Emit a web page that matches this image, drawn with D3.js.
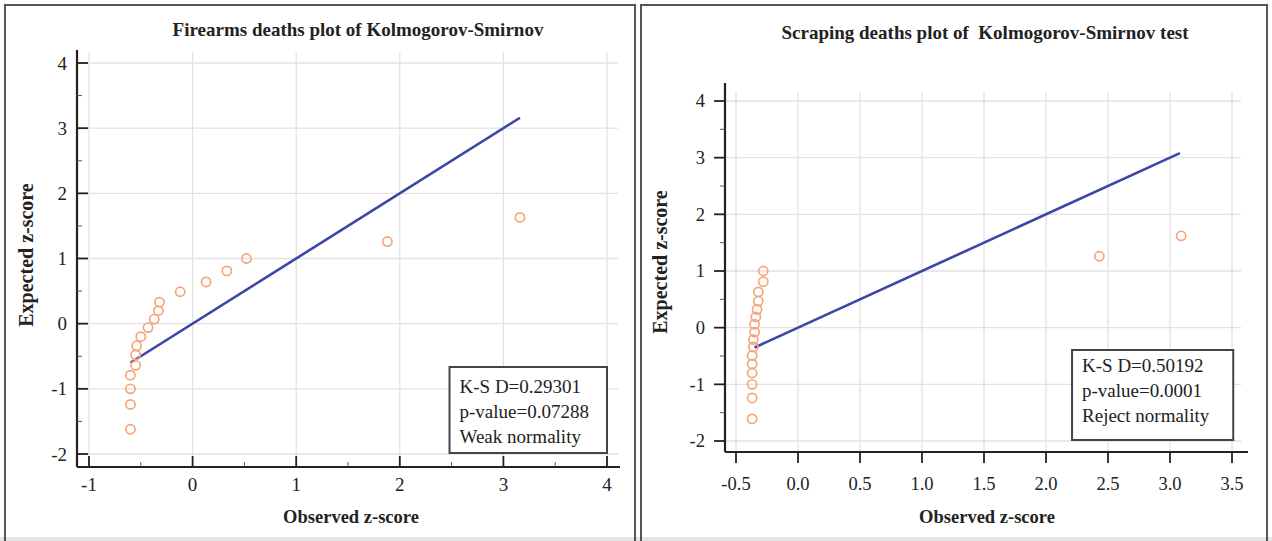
<!DOCTYPE html>
<html>
<head>
  <meta charset="utf-8">
  <title>Kolmogorov-Smirnov plots</title>
  <script src="https://d3js.org/d3.v7.min.js"></script>
  <style>
    body {
      margin: 0;
      background: #fff;
      font-family: 'Liberation Serif', 'Times New Roman', serif;
    }
    svg text { font-family: 'Liberation Serif', 'Times New Roman', serif; fill: #222; }
  </style>
</head>
<body>
  <div id="chart"></div>

  <script>
    // Firearms deaths: observed vs expected z-scores
    const firearmsObserved = [-0.60, -0.60, -0.60, -0.60, -0.55, -0.55, -0.54, -0.50, -0.43, -0.37, -0.33, -0.32, -0.12, 0.13, 0.33, 0.52, 1.88, 3.16];
    const firearmsExpected = [-1.62, -1.24, -1.00, -0.79, -0.64, -0.48, -0.34, -0.20, -0.06, 0.07, 0.20, 0.33, 0.49, 0.64, 0.81, 1.00, 1.26, 1.63];
    const firearmsLine = [-0.60, 3.16];
    const firearmsXTicks = [-1, 0, 1, 2, 3, 4];
    const firearmsStats = ["K-S D=0.29301", "p-value=0.07288", "Weak normality"];

    // Scraping deaths
    const scrapingObserved = [-0.37, -0.37, -0.37, -0.37, -0.37, -0.37, -0.36, -0.36, -0.35, -0.35, -0.34, -0.33, -0.32, -0.32, -0.28, -0.28, 2.43, 3.09];
    const scrapingExpected = [-1.61, -1.24, -1.00, -0.80, -0.64, -0.49, -0.34, -0.21, -0.08, 0.06, 0.19, 0.32, 0.47, 0.63, 0.81, 1.00, 1.26, 1.62];
    const scrapingLine = [-0.35, 3.08];
    const scrapingXTicks = [-0.5, 0.0, 0.5, 1.0, 1.5, 2.0, 2.5, 3.0, 3.5];
    const scrapingStats = ["K-S D=0.50192", "p-value=0.0001", "Reject normality"];

    const yTicks = [-2, -1, 0, 1, 2, 3, 4];

    const W = 1272, H = 541;
    const svg = d3.select("#chart").append("svg")
      .attr("width", W)
      .attr("height", H);

    // plain hyphen for negatives, like the original
    const hyphen = f => d => f(d).replace("\u2212", "-");

    // background frames
    svg.append("rect").attr("x", 0).attr("y", 537).attr("width", W).attr("height", 4).attr("fill", "#e4e4e4");
    svg.append("rect").attr("x", 5).attr("y", 5).attr("width", 630).attr("height", 540)
      .attr("fill", "none").attr("stroke", "#555").attr("stroke-width", 2);
    svg.append("rect").attr("x", 641).attr("y", 5).attr("width", 626).attr("height", 540)
      .attr("fill", "none").attr("stroke", "#555").attr("stroke-width", 2);

    function drawPanel(cfg) {
      const g = svg.append("g");
      const x = d3.scaleLinear().domain(cfg.xDomain).range(cfg.xRange);
      const y = d3.scaleLinear().domain([-2, 4]).range(cfg.yRange);

      // grid
      g.append("g").selectAll("line")
        .data(yTicks)
        .join("line")
        .attr("x1", cfg.axisX).attr("x2", cfg.gridRight)
        .attr("y1", d => y(d)).attr("y2", d => y(d))
        .attr("stroke", "#e2e2e2").attr("stroke-width", 1.3);
      g.append("g").selectAll("line")
        .data(cfg.xTicks)
        .join("line")
        .attr("x1", d => x(d)).attr("x2", d => x(d))
        .attr("y1", cfg.gridTop).attr("y2", cfg.axisY)
        .attr("stroke", "#e2e2e2").attr("stroke-width", 1.3);

      // axes
      const dir = cfg.inside ? 1 : -1;
      const yAxis = g.append("g");
      yAxis.append("line")
        .attr("x1", cfg.axisX).attr("x2", cfg.axisX)
        .attr("y1", cfg.axisTop).attr("y2", cfg.axisY)
        .attr("stroke", "#222").attr("stroke-width", 2.2);
      yAxis.selectAll(".major")
        .data(yTicks)
        .join("line")
        .attr("class", "major")
        .attr("x1", cfg.axisX).attr("x2", cfg.axisX + dir * 11)
        .attr("y1", d => y(d)).attr("y2", d => y(d))
        .attr("stroke", "#222").attr("stroke-width", 1.8);
      yAxis.selectAll(".minor")
        .data(yTicks.slice(0, -1).map(d => d + 0.5))
        .join("line")
        .attr("class", "minor")
        .attr("x1", cfg.axisX).attr("x2", cfg.axisX + dir * 5)
        .attr("y1", d => y(d)).attr("y2", d => y(d))
        .attr("stroke", "#555").attr("stroke-width", 1);
      yAxis.selectAll("text")
        .data(yTicks)
        .join("text")
        .attr("x", cfg.yLabelX)
        .attr("y", d => y(d))
        .attr("dy", "0.35em")
        .attr("text-anchor", "end")
        .attr("font-size", cfg.tickSize)
        .text(hyphen(d3.format("d")));

      const xAxis = g.append("g");
      xAxis.append("line")
        .attr("x1", cfg.axisX).attr("x2", cfg.axisRight)
        .attr("y1", cfg.axisY).attr("y2", cfg.axisY)
        .attr("stroke", "#222").attr("stroke-width", 2.2);
      xAxis.selectAll(".major")
        .data(cfg.xTicks)
        .join("line")
        .attr("class", "major")
        .attr("x1", d => x(d)).attr("x2", d => x(d))
        .attr("y1", cfg.axisY).attr("y2", cfg.axisY - dir * 11)
        .attr("stroke", "#222").attr("stroke-width", 1.8);
      if (cfg.inside) {
        xAxis.selectAll(".minor")
          .data(cfg.xTicks.slice(0, -1).map(d => d + 0.5))
          .join("line")
          .attr("class", "minor")
          .attr("x1", d => x(d)).attr("x2", d => x(d))
          .attr("y1", cfg.axisY).attr("y2", cfg.axisY - 5)
          .attr("stroke", "#555").attr("stroke-width", 1);
      }
      xAxis.selectAll("text")
        .data(cfg.xTicks)
        .join("text")
        .attr("x", d => x(d))
        .attr("y", cfg.xLabelY)
        .attr("dy", "0.35em")
        .attr("text-anchor", "middle")
        .attr("font-size", cfg.tickSize)
        .text(hyphen(cfg.xFormat));

      // titles
      g.append("text")
        .attr("x", cfg.titleX).attr("y", cfg.titleY)
        .attr("text-anchor", "middle")
        .attr("font-size", 19).attr("font-weight", "bold")
        .style("white-space", "pre")
        .text(cfg.title);
      g.append("text")
        .attr("x", cfg.xTitleX).attr("y", 523)
        .attr("text-anchor", "middle")
        .attr("font-size", 18.5).attr("font-weight", "bold")
        .text("Observed z-score");
      g.append("text")
        .attr("transform", `translate(${cfg.yTitleX},${cfg.yTitleY}) rotate(-90)`)
        .attr("text-anchor", "middle")
        .attr("font-size", 20).attr("font-weight", "bold")
        .text("Expected z-score");

      // reference line
      g.append("line")
        .attr("x1", x(cfg.line[0])).attr("y1", y(cfg.line[0]))
        .attr("x2", x(cfg.line[1])).attr("y2", y(cfg.line[1]))
        .attr("stroke", "#3b46a6").attr("stroke-width", 2.6);

      // points
      g.append("g").selectAll("circle")
        .data(cfg.observed.map((d, i) => [d, cfg.expected[i]]))
        .join("circle")
        .attr("cx", d => x(d[0]))
        .attr("cy", d => y(d[1]))
        .attr("r", 4.6)
        .attr("fill", "none")
        .attr("stroke", "#f6a57b")
        .attr("stroke-width", 1.7);

      // stats box
      const bx0 = x(cfg.boxX[0]), bx1 = x(cfg.boxX[1]);
      const by1 = y(-2) - 1, by0 = by1 - cfg.boxH;
      g.append("rect")
        .attr("x", bx0).attr("y", by0)
        .attr("width", bx1 - bx0).attr("height", by1 - by0)
        .attr("fill", "#fff").attr("stroke", "#444").attr("stroke-width", 2);
      g.append("g").selectAll("text")
        .data(cfg.stats)
        .join("text")
        .attr("x", bx0 + 10)
        .attr("y", (d, i) => by0 + cfg.textOff + i * 25)
        .attr("font-size", 19)
        .text(d => d);
    }

    drawPanel({
      observed: firearmsObserved, expected: firearmsExpected, line: firearmsLine,
      xTicks: firearmsXTicks, stats: firearmsStats,
      title: "Firearms deaths plot of Kolmogorov-Smirnov",
      xDomain: [-1, 4], xRange: [89, 607], yRange: [454, 63],
      axisX: 77, axisY: 467, axisTop: 50, axisRight: 620,
      gridTop: 52, gridRight: 618, inside: true,
      yLabelX: 67, xLabelY: 484, tickSize: 19,
      xFormat: d3.format("d"),
      titleX: 358, titleY: 36, xTitleX: 351, yTitleX: 33, yTitleY: 255,
      boxX: [2.48, 4.0], boxH: 86, textOff: 26
    });

    drawPanel({
      observed: scrapingObserved, expected: scrapingExpected, line: scrapingLine,
      xTicks: scrapingXTicks, stats: scrapingStats,
      title: "Scraping deaths plot of  Kolmogorov-Smirnov test",
      xDomain: [-0.5, 3.5], xRange: [736, 1232], yRange: [441, 101],
      axisX: 725, axisY: 452, axisRight: 1248, axisTop: 83,
      gridTop: 92, gridRight: 1241, inside: false,
      yLabelX: 705, xLabelY: 484, tickSize: 18.5,
      xFormat: d3.format(".1f"),
      titleX: 985, titleY: 39, xTitleX: 987, yTitleX: 667, yTitleY: 262,
      boxX: [2.21, 3.51], boxH: 90, textOff: 22
    });
  </script>
</body>
</html>
